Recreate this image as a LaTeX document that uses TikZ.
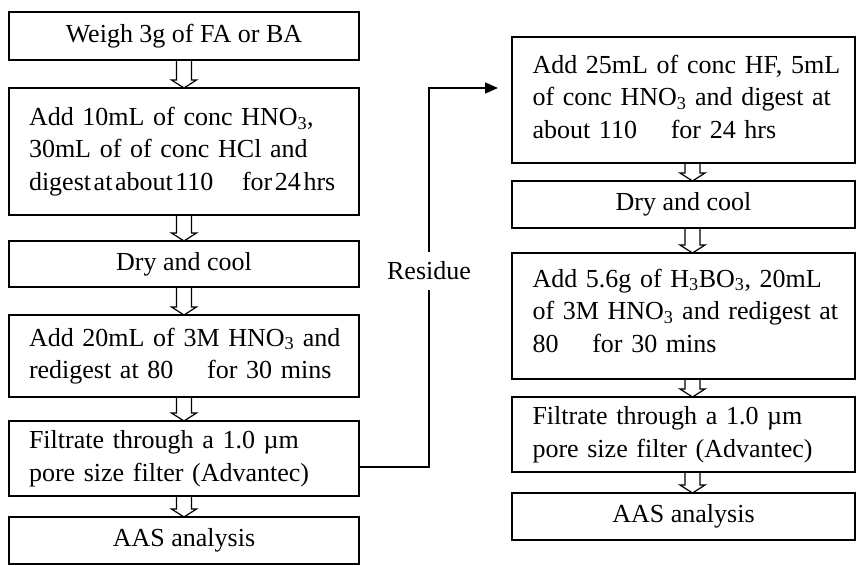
\documentclass[tikz,border=0pt]{standalone}
\usepackage{fontspec}
\setmainfont{Liberation Serif}
\usetikzlibrary{arrows.meta,calc}
\newcommand\gapC{\hspace{1.3em}}
\newcommand\lnL[1]{\makebox[310pt][l]{#1}}
\newcommand\lnJ[1]{\makebox[310pt][s]{#1}}
\newcommand\lnT[1]{\makebox[310pt][l]{\spaceskip=2.6pt plus 1pt\relax #1}}
\newcommand\harr[3][0]{%
  \draw[harrowline] ($(#2.south)+(#1-7.5,0)$) -- ($(#3.north)+(#1-7.5,-8)$)
    -- ($(#3.north)+(#1-12.5,-8)$) -- ($(#3.north)+(#1,0)$)
    -- ($(#3.north)+(#1+12.5,-8)$) -- ($(#3.north)+(#1+7.5,-8)$)
    -- ($(#2.south)+(#1+7.5,0)$);}
\tikzset{
  box/.style={draw, line width=1.6pt, rectangle, inner sep=0pt, outer sep=0pt,
    font=\fontsize{26}{32.5}\selectfont},
  lbox/.style={box, minimum width=350pt},
  rbox/.style={box, minimum width=343pt},
  ltext/.style={text width=310pt, align=left},
  rtext/.style={text width=302pt, align=left},
  harrowline/.style={line width=1.2pt, line join=miter},
  resline/.style={line width=1.5pt},
  reslabel/.style={fill=white, inner sep=2pt, minimum height=38pt,
    font=\fontsize{26}{32.5}\selectfont},
}
\begin{document}
\begin{tikzpicture}[x=1pt, y=-1pt]
\useasboundingbox (0,0) rectangle (856,565);
% left column
\node[lbox, minimum height=48pt, align=center] (L1) at (184,36) {Weigh 3g of FA or BA};
\node[lbox, minimum height=127pt, ltext] (L2) at (184,151.5)
  {\lnJ{Add 10mL of conc HNO\textsubscript{3},}\\
   \lnJ{30mL of of conc HCl and}\\
   \lnT{digest at about 110\hspace{1.1em}for 24 hrs}};
\node[lbox, minimum height=46pt, align=center] (L3) at (184,264) {Dry and cool};
\node[lbox, minimum height=82pt, ltext] (L4) at (184,356)
  {\lnL{Add 20mL of 3M HNO\textsubscript{3} and}\\ \lnL{redigest at 80\gapC{}for 30 mins}};
\node[lbox, minimum height=75pt, ltext] (L5) at (184,458.5)
  {\lnL{Filtrate through a 1.0 µm}\\ \lnL{pore size filter (Advantec)}};
\node[lbox, minimum height=47pt, align=center] (L6) at (184,540.5) {AAS analysis};
% right column
\node[rbox, minimum height=126pt, rtext] (R1) at (683.5,100)
  {\lnJ{Add 25mL of conc HF, 5mL}\\
   \lnJ{of conc HNO\textsubscript{3} and digest at}\\
   \lnL{about 110\gapC{}for 24 hrs}\\[-26pt]\mbox{}};
\node[rbox, minimum height=47pt, align=center] (R2) at (683.5,204.5) {Dry and cool};
\node[rbox, minimum height=126pt, rtext] (R3) at (683.5,316)
  {\lnL{Add 5.6g of H\textsubscript{3}BO\textsubscript{3}, 20mL}\\
   \lnL{of 3M HNO\textsubscript{3} and redigest at}\\
   \lnL{80\gapC{}for 30 mins}\\[-21.5pt]\mbox{}};
\node[rbox, minimum height=75pt, rtext] (R4) at (683.5,434.5)
  {\lnL{Filtrate through a 1.0 µm}\\ \lnL{pore size filter (Advantec)}};
\node[rbox, minimum height=47pt, align=center] (R5) at (683.5,516.5) {AAS analysis};
% hollow arrows
\harr{L1}{L2}
\harr{L2}{L3}
\harr{L3}{L4}
\harr{L4}{L5}
\harr{L5}{L6}
\harr[9]{R1}{R2}
\harr[9]{R2}{R3}
\harr[9]{R3}{R4}
\harr[9]{R4}{R5}
% residue connector
\coordinate (rb) at (429,467);
\coordinate (rt) at (429,88);
\draw[resline, -{Triangle[length=13pt,width=11pt]}]
  (rb -| L5.east) -- (rb) -- node[reslabel, pos=0.517] (res) {Residue} (rt)
  -- ($(rt -| R1.west)+(-14,0)$);
\end{tikzpicture}
\end{document}
